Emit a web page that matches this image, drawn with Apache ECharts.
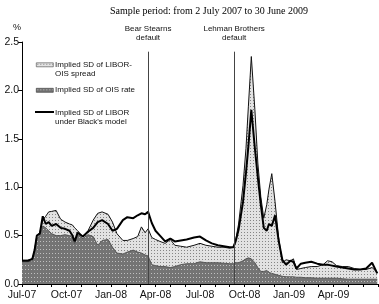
<!DOCTYPE html>
<html>
<head>
<meta charset="utf-8">
<script src="https://cdn.jsdelivr.net/npm/echarts@6/dist/echarts.min.js"></script>
<style>
html,body{margin:0;padding:0;background:#fff;}
#chart{width:379px;height:304px;}
</style>
</head>
<body>
<div id="chart"></div>
<script>
// x positions: months elapsed since 1 July 2007
var X = [0, 0.4, 0.7, 0.85, 1.0, 1.2, 1.4, 1.6, 1.8, 2.0,
         2.3, 2.6, 2.9, 3.2, 3.4, 3.55, 3.75, 4.1, 4.45, 4.8,
         5.1, 5.4, 5.8, 6.1, 6.4, 6.8, 7.1, 7.5, 7.8, 8.05,
         8.3, 8.5, 8.75, 9.0, 9.3, 9.65, 10.0, 10.3, 10.7, 11.1,
         11.6, 12.0, 12.4, 12.8, 13.2, 13.6, 14.0, 14.25, 14.4, 14.6,
         14.9, 15.1, 15.26, 15.46, 15.7, 15.9, 16.1, 16.3, 16.5, 16.65,
         16.84, 17.06, 17.3, 17.55, 17.8, 18.1, 18.3, 18.5, 18.8, 19.1,
         19.5, 19.9, 20.3, 20.6, 20.9, 21.2, 21.6, 22.0, 22.4, 22.8,
         23.2, 23.6, 23.95];
// Implied SD of OIS rate (dark band)
var OIS = [0.23, 0.23, 0.24, 0.33, 0.47, 0.50, 0.60, 0.58, 0.55, 0.52,
           0.50, 0.50, 0.51, 0.50, 0.48, 0.42, 0.51, 0.47, 0.51, 0.49,
           0.40, 0.45, 0.46, 0.38, 0.32, 0.31, 0.33, 0.35, 0.33, 0.32,
           0.30, 0.29, 0.20, 0.19, 0.18, 0.18, 0.17, 0.18, 0.20, 0.21,
           0.21, 0.23, 0.22, 0.22, 0.22, 0.215, 0.21, 0.21, 0.22, 0.22,
           0.24, 0.26, 0.27, 0.26, 0.22, 0.17, 0.13, 0.13, 0.14, 0.12,
           0.11, 0.10, 0.09, 0.08, 0.075, 0.075, 0.075, 0.07, 0.07, 0.065,
           0.065, 0.06, 0.06, 0.06, 0.06, 0.06, 0.055, 0.05, 0.05, 0.05,
           0.05, 0.05, 0.05];
// Top of the dotted band: OIS plus the LIBOR-OIS spread
var TOTAL = [0.245, 0.245, 0.26, 0.35, 0.50, 0.53, 0.66, 0.70, 0.745, 0.75,
             0.76, 0.67, 0.64, 0.62, 0.61, 0.58, 0.55, 0.49, 0.55, 0.66,
             0.73, 0.745, 0.72, 0.64, 0.52, 0.45, 0.45, 0.47, 0.49, 0.59,
             0.53, 0.57, 0.48, 0.46, 0.44, 0.42, 0.46, 0.40, 0.39, 0.38,
             0.40, 0.42, 0.40, 0.39, 0.38, 0.38, 0.37, 0.38, 0.45, 0.62,
             1.02, 1.40, 1.83, 2.35, 1.80, 1.25, 0.90, 0.68, 0.82, 0.98,
             1.14, 0.85, 0.48, 0.22, 0.25, 0.24, 0.26, 0.15, 0.16, 0.17,
             0.18, 0.18, 0.20, 0.24, 0.23, 0.19, 0.18, 0.18, 0.16, 0.15,
             0.15, 0.17, 0.12];
// Implied SD of LIBOR under Black's model
var LIBOR = [0.24, 0.24, 0.26, 0.35, 0.50, 0.52, 0.70, 0.62, 0.64, 0.60,
             0.62, 0.58, 0.57, 0.55, 0.50, 0.44, 0.53, 0.49, 0.54, 0.58,
             0.64, 0.66, 0.62, 0.55, 0.57, 0.66, 0.69, 0.68, 0.71, 0.73,
             0.72, 0.745, 0.63, 0.55, 0.50, 0.44, 0.47, 0.44, 0.45, 0.46,
             0.48, 0.49, 0.45, 0.42, 0.40, 0.39, 0.38, 0.38, 0.44, 0.56,
             0.85, 1.15, 1.42, 1.80, 1.40, 1.10, 0.82, 0.58, 0.55, 0.62,
             0.60, 0.71, 0.45, 0.25, 0.20, 0.24, 0.23, 0.16, 0.21, 0.22,
             0.23, 0.21, 0.20, 0.20, 0.19, 0.18, 0.17, 0.16, 0.15, 0.15,
             0.16, 0.22, 0.11];
var X_TICK_LABELS = ['Jul-07', 'Oct-07', 'Jan-08', 'Apr-08', 'Jul-08', 'Oct-08', 'Jan-09', 'Apr-09'];
var EVENT_NAMES = ['Bear Stearns\ndefault', 'Lehman Brothers\ndefault'];
var EVENT_X = [8.5, 14.3];

function makePattern(bg, dot, w, h) {
  var c = document.createElement('canvas');
  c.width = w; c.height = h;
  var g = c.getContext('2d');
  g.fillStyle = bg; g.fillRect(0, 0, w, h);
  g.fillStyle = dot; g.fillRect(1, 1, 1, 1);
  return c;
}
var lightCanvas = makePattern('#e2e2e2', '#858585', 3, 3);
var darkCanvas = makePattern('#747474', '#c0c0c0', 3, 4);
var lightPat = {image: lightCanvas, repeat: 'repeat'};
var darkPat = {image: darkCanvas, repeat: 'repeat'};

function pairs(xs, ys) { return xs.map(function (x, i) { return [x, ys[i]]; }); }

var chart = echarts.init(document.getElementById('chart'), null, {renderer: 'canvas'});
var SANS = '"Liberation Sans", Arial, sans-serif';
chart.setOption({
  animation: false,
  title: {
    text: 'Sample period: from 2 July 2007 to 30 June 2009',
    left: 204, top: 1, textAlign: 'center',
    textStyle: {fontFamily: '"Liberation Serif", "Times New Roman", serif', fontSize: 10, fontWeight: 'normal', color: '#000'}
  },
  grid: {left: 22, right: 1, top: 42, bottom: 20, outerBoundsMode: 'none'},
  xAxis: {
    type: 'value', min: 0, max: 24, interval: 1,
    axisLine: {show: true, lineStyle: {color: '#000', width: 1}},
    axisTick: {show: true, length: 3, lineStyle: {color: '#000'}},
    splitLine: {show: false},
    axisLabel: {
      fontFamily: SANS, fontSize: 10.5, color: '#111', margin: 6,
      formatter: function (v) { return (v % 3 === 0 && v / 3 < X_TICK_LABELS.length) ? X_TICK_LABELS[v / 3] : ''; }
    }
  },
  yAxis: {
    type: 'value', min: 0, max: 2.5, interval: 0.5,
    name: '%', nameLocation: 'end', nameGap: 10,
    nameTextStyle: {fontFamily: SANS, fontSize: 9, color: '#111', align: 'right', padding: [0, 1, 0, 0]},
    axisLine: {show: true, lineStyle: {color: '#000', width: 1}},
    axisTick: {show: true, length: 4, lineStyle: {color: '#000'}},
    splitLine: {show: false},
    axisLabel: {fontFamily: SANS, fontSize: 10.5, color: '#111', margin: 3,
      formatter: function (v) { return v.toFixed(1); }}
  },
  series: [
    {
      name: 'Implied SD of LIBOR-OIS spread', type: 'line', data: pairs(X, TOTAL),
      symbol: 'none', z: 1,
      lineStyle: {color: '#111', width: 1},
      areaStyle: {color: lightPat, opacity: 1, origin: 'start'}
    },
    {
      name: 'Implied SD of OIS rate', type: 'line', data: pairs(X, OIS),
      symbol: 'none', z: 2,
      lineStyle: {color: '#444', width: 0.8},
      areaStyle: {color: darkPat, opacity: 1, origin: 'start'}
    },
    {
      name: "Implied SD of LIBOR under Black's model", type: 'line', data: pairs(X, LIBOR),
      symbol: 'none', z: 3,
      lineStyle: {color: '#000', width: 2},
      markLine: {
        silent: true, symbol: 'none', animation: false,
        lineStyle: {color: '#444', width: 1, type: 'solid'},
        label: {show: true, position: 'end', distance: 9, formatter: '{b}',
          fontFamily: SANS, fontSize: 8, lineHeight: 9, color: '#111', align: 'center'},
        data: EVENT_X.map(function (x, i) {
          return [{coord: [x, 0], name: EVENT_NAMES[i]}, {coord: [x, 2.4]}];
        })
      }
    }
  ],
  graphic: [
    {type: 'rect', z: 100, left: 36, top: 62.5, shape: {width: 17, height: 4}, style: {fill: lightPat, stroke: '#444', lineWidth: 0.6}},
    {type: 'text', z: 100, left: 55, top: 60.5, style: {text: 'Implied SD of LIBOR-\nOIS spread', fontSize: 8, fontFamily: SANS, lineHeight: 9, fill: '#111'}},
    {type: 'rect', z: 100, left: 36, top: 88, shape: {width: 17, height: 4}, style: {fill: darkPat, stroke: '#333', lineWidth: 0.6}},
    {type: 'text', z: 100, left: 55, top: 85.5, style: {text: 'Implied SD of OIS rate', fontSize: 8, fontFamily: SANS, lineHeight: 9, fill: '#111'}},
    {type: 'line', z: 100, shape: {x1: 35, y1: 112, x2: 54, y2: 112}, style: {stroke: '#000', lineWidth: 2}},
    {type: 'text', z: 100, left: 55, top: 108, style: {text: "Implied SD of LIBOR\nunder Black's model", fontSize: 8, fontFamily: SANS, lineHeight: 9, fill: '#111'}}
  ]
});
</script>
</body>
</html>
